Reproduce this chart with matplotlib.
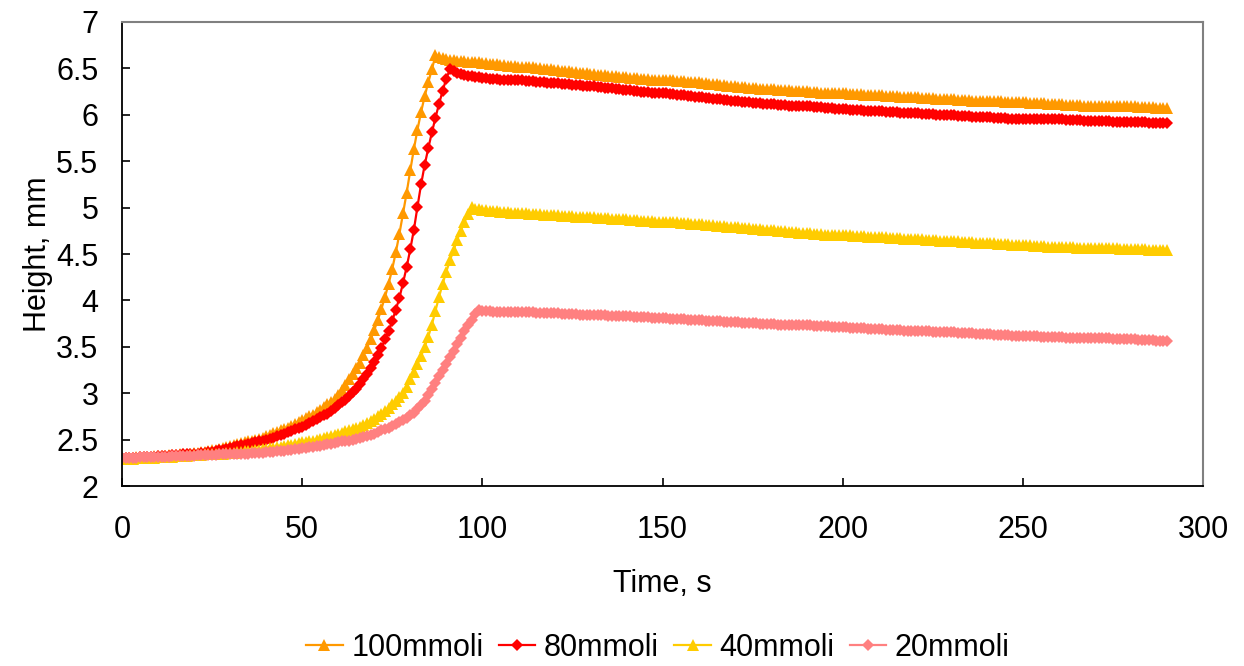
import matplotlib
matplotlib.use("Agg")
import matplotlib.pyplot as plt

plt.rcParams['font.family'] = ['Liberation Sans', 'DejaVu Sans']

time_s = list(range(0, 291))

labels = ["100mmoli", "80mmoli", "40mmoli", "20mmoli"]

h_100 = [
    2.30,2.30,2.30,2.30,2.31,2.31,2.31,2.31,2.31,2.32,
    2.32,2.32,2.32,2.33,2.33,2.33,2.34,2.34,2.35,2.35,
    2.36,2.36,2.37,2.37,2.38,2.39,2.39,2.40,2.41,2.42,
    2.43,2.44,2.45,2.46,2.47,2.48,2.49,2.50,2.51,2.52,
    2.54,2.55,2.57,2.58,2.60,2.61,2.63,2.65,2.67,2.69,
    2.71,2.73,2.75,2.77,2.80,2.82,2.85,2.88,2.91,2.94,
    2.98,3.03,3.09,3.15,3.21,3.27,3.33,3.41,3.49,3.58,
    3.68,3.79,3.91,4.04,4.18,4.34,4.52,4.72,4.94,5.16,
    5.40,5.63,5.84,6.03,6.20,6.35,6.49,6.64,6.62,6.61,
    6.60,6.59,6.59,6.58,6.58,6.58,6.57,6.57,6.57,6.57,
    6.56,6.56,6.55,6.55,6.55,6.54,6.54,6.53,6.53,6.53,
    6.52,6.52,6.51,6.51,6.51,6.50,6.50,6.49,6.49,6.49,
    6.48,6.48,6.47,6.47,6.47,6.46,6.46,6.45,6.45,6.45,
    6.44,6.44,6.43,6.43,6.43,6.42,6.42,6.42,6.41,6.41,
    6.41,6.40,6.40,6.40,6.39,6.39,6.39,6.38,6.38,6.38,
    6.38,6.37,6.37,6.37,6.36,6.36,6.36,6.35,6.35,6.35,
    6.35,6.34,6.34,6.33,6.33,6.33,6.32,6.32,6.31,6.31,
    6.31,6.30,6.30,6.30,6.29,6.29,6.29,6.28,6.28,6.28,
    6.28,6.28,6.27,6.27,6.27,6.27,6.26,6.26,6.26,6.26,
    6.26,6.25,6.25,6.25,6.24,6.24,6.24,6.23,6.23,6.23,
    6.23,6.23,6.22,6.22,6.22,6.22,6.21,6.21,6.21,6.21,
    6.21,6.21,6.20,6.20,6.20,6.20,6.19,6.19,6.19,6.19,
    6.19,6.19,6.18,6.18,6.18,6.18,6.17,6.17,6.17,6.17,
    6.17,6.17,6.16,6.16,6.16,6.16,6.15,6.15,6.15,6.15,
    6.15,6.15,6.15,6.15,6.15,6.14,6.14,6.14,6.14,6.14,
    6.14,6.14,6.13,6.13,6.13,6.13,6.13,6.12,6.12,6.12,
    6.12,6.12,6.11,6.11,6.11,6.11,6.11,6.10,6.10,6.10,
    6.10,6.10,6.10,6.10,6.10,6.09,6.09,6.09,6.09,6.09,
    6.09,6.09,6.08,6.08,6.08,6.08,6.08,6.07,6.07,6.07,
    6.07,
]

h_80 = [
    2.30,2.30,2.30,2.30,2.30,2.31,2.31,2.31,2.31,2.31,
    2.32,2.32,2.32,2.32,2.33,2.33,2.33,2.34,2.34,2.34,
    2.35,2.35,2.36,2.36,2.37,2.37,2.38,2.39,2.39,2.40,
    2.41,2.42,2.43,2.44,2.44,2.45,2.46,2.47,2.48,2.49,
    2.50,2.51,2.52,2.54,2.55,2.56,2.58,2.59,2.61,2.62,
    2.64,2.66,2.68,2.70,2.72,2.74,2.76,2.78,2.81,2.84,
    2.87,2.90,2.93,2.97,3.01,3.05,3.10,3.15,3.21,3.27,
    3.34,3.41,3.49,3.58,3.67,3.78,3.90,4.03,4.19,4.36,
    4.55,4.76,5.01,5.25,5.46,5.64,5.81,5.97,6.12,6.26,
    6.39,6.49,6.47,6.45,6.44,6.43,6.42,6.42,6.41,6.41,
    6.40,6.40,6.39,6.39,6.39,6.38,6.38,6.38,6.37,6.37,
    6.37,6.37,6.36,6.36,6.36,6.35,6.35,6.35,6.34,6.34,
    6.34,6.34,6.33,6.33,6.33,6.32,6.32,6.32,6.31,6.31,
    6.31,6.31,6.30,6.30,6.29,6.29,6.29,6.28,6.28,6.27,
    6.27,6.27,6.26,6.26,6.25,6.25,6.25,6.24,6.24,6.23,
    6.23,6.23,6.22,6.22,6.21,6.21,6.21,6.20,6.20,6.19,
    6.19,6.19,6.18,6.18,6.17,6.17,6.17,6.16,6.16,6.15,
    6.15,6.15,6.14,6.14,6.14,6.13,6.13,6.13,6.12,6.12,
    6.12,6.12,6.11,6.11,6.11,6.10,6.10,6.10,6.09,6.09,
    6.09,6.09,6.08,6.08,6.08,6.07,6.07,6.07,6.06,6.06,
    6.06,6.06,6.05,6.05,6.05,6.05,6.04,6.04,6.04,6.04,
    6.04,6.04,6.03,6.03,6.03,6.03,6.02,6.02,6.02,6.02,
    6.02,6.02,6.01,6.01,6.01,6.01,6.00,6.00,6.00,6.00,
    6.00,6.00,5.99,5.99,5.99,5.99,5.98,5.98,5.98,5.98,
    5.98,5.98,5.97,5.97,5.97,5.97,5.96,5.96,5.96,5.96,
    5.96,5.96,5.96,5.96,5.96,5.95,5.95,5.95,5.95,5.95,
    5.95,5.95,5.94,5.94,5.94,5.94,5.94,5.93,5.93,5.93,
    5.93,5.93,5.93,5.93,5.93,5.92,5.92,5.92,5.92,5.92,
    5.92,5.92,5.92,5.92,5.92,5.91,5.91,5.91,5.91,5.91,
    5.91,
]

h_40 = [
    2.29,2.29,2.29,2.29,2.30,2.30,2.30,2.30,2.30,2.30,
    2.31,2.31,2.31,2.31,2.31,2.32,2.32,2.32,2.32,2.33,
    2.33,2.33,2.33,2.34,2.34,2.34,2.35,2.35,2.35,2.36,
    2.36,2.36,2.37,2.37,2.38,2.38,2.38,2.39,2.39,2.40,
    2.40,2.41,2.41,2.42,2.42,2.43,2.44,2.44,2.45,2.46,
    2.47,2.47,2.48,2.49,2.50,2.51,2.52,2.53,2.54,2.55,
    2.56,2.57,2.59,2.60,2.61,2.63,2.64,2.66,2.68,2.70,
    2.72,2.75,2.78,2.81,2.84,2.88,2.92,2.96,3.00,3.07,
    3.15,3.23,3.31,3.40,3.50,3.61,3.74,3.89,4.04,4.18,
    4.31,4.43,4.54,4.65,4.75,4.84,4.93,5.01,4.99,4.98,
    4.97,4.97,4.96,4.96,4.96,4.95,4.95,4.95,4.94,4.94,
    4.94,4.94,4.94,4.93,4.93,4.93,4.93,4.92,4.92,4.92,
    4.92,4.92,4.91,4.91,4.91,4.91,4.90,4.90,4.90,4.90,
    4.90,4.90,4.89,4.89,4.89,4.89,4.88,4.88,4.88,4.88,
    4.88,4.87,4.87,4.87,4.86,4.86,4.86,4.86,4.85,4.85,
    4.85,4.85,4.84,4.84,4.84,4.83,4.83,4.83,4.82,4.82,
    4.82,4.82,4.81,4.81,4.81,4.80,4.80,4.80,4.79,4.79,
    4.79,4.79,4.78,4.78,4.78,4.77,4.77,4.77,4.76,4.76,
    4.76,4.76,4.75,4.75,4.75,4.74,4.74,4.74,4.73,4.73,
    4.73,4.73,4.72,4.72,4.72,4.71,4.71,4.71,4.70,4.70,
    4.70,4.70,4.70,4.69,4.69,4.69,4.69,4.68,4.68,4.68,
    4.68,4.68,4.68,4.67,4.67,4.67,4.67,4.66,4.66,4.66,
    4.66,4.66,4.66,4.65,4.65,4.65,4.65,4.64,4.64,4.64,
    4.64,4.64,4.64,4.63,4.63,4.63,4.63,4.62,4.62,4.62,
    4.62,4.62,4.62,4.61,4.61,4.61,4.61,4.60,4.60,4.60,
    4.60,4.60,4.60,4.59,4.59,4.59,4.59,4.58,4.58,4.58,
    4.58,4.58,4.58,4.58,4.58,4.57,4.57,4.57,4.57,4.57,
    4.57,4.57,4.56,4.56,4.56,4.56,4.56,4.55,4.55,4.55,
    4.55,4.55,4.55,4.55,4.55,4.54,4.54,4.54,4.54,4.54,
    4.54,
]

h_20 = [
    2.30,2.30,2.30,2.30,2.30,2.31,2.31,2.31,2.31,2.31,
    2.31,2.31,2.31,2.31,2.32,2.32,2.32,2.32,2.32,2.32,
    2.32,2.33,2.33,2.33,2.33,2.33,2.33,2.34,2.34,2.34,
    2.34,2.34,2.35,2.35,2.35,2.35,2.36,2.36,2.36,2.36,
    2.37,2.37,2.37,2.38,2.38,2.38,2.39,2.39,2.40,2.40,
    2.41,2.41,2.42,2.42,2.43,2.43,2.44,2.45,2.45,2.46,
    2.47,2.48,2.48,2.49,2.50,2.51,2.52,2.53,2.54,2.55,
    2.56,2.58,2.60,2.61,2.63,2.65,2.67,2.69,2.71,2.73,
    2.76,2.79,2.83,2.87,2.92,2.98,3.04,3.11,3.18,3.25,
    3.32,3.39,3.46,3.53,3.60,3.67,3.73,3.79,3.85,3.90,
    3.89,3.89,3.89,3.88,3.88,3.88,3.88,3.88,3.87,3.87,
    3.87,3.87,3.87,3.87,3.87,3.86,3.86,3.86,3.86,3.86,
    3.86,3.86,3.85,3.85,3.85,3.85,3.85,3.84,3.84,3.84,
    3.84,3.84,3.84,3.84,3.84,3.83,3.83,3.83,3.83,3.83,
    3.83,3.83,3.82,3.82,3.82,3.82,3.82,3.81,3.81,3.81,
    3.81,3.81,3.80,3.80,3.80,3.80,3.80,3.79,3.79,3.79,
    3.79,3.79,3.78,3.78,3.78,3.78,3.78,3.77,3.77,3.77,
    3.77,3.77,3.76,3.76,3.76,3.76,3.76,3.75,3.75,3.75,
    3.75,3.75,3.74,3.74,3.74,3.74,3.74,3.73,3.73,3.73,
    3.73,3.73,3.72,3.72,3.72,3.72,3.72,3.71,3.71,3.71,
    3.71,3.71,3.70,3.70,3.70,3.70,3.70,3.69,3.69,3.69,
    3.69,3.69,3.68,3.68,3.68,3.68,3.68,3.67,3.67,3.67,
    3.67,3.67,3.67,3.67,3.67,3.66,3.66,3.66,3.66,3.66,
    3.66,3.66,3.65,3.65,3.65,3.65,3.65,3.64,3.64,3.64,
    3.64,3.64,3.63,3.63,3.63,3.63,3.63,3.62,3.62,3.62,
    3.62,3.62,3.62,3.62,3.62,3.61,3.61,3.61,3.61,3.61,
    3.61,3.61,3.60,3.60,3.60,3.60,3.60,3.59,3.59,3.59,
    3.59,3.59,3.59,3.59,3.59,3.58,3.58,3.58,3.58,3.58,
    3.58,3.58,3.57,3.57,3.57,3.57,3.57,3.56,3.56,3.56,
    3.56,
]

series = [h_100, h_80, h_40, h_20]
colors = ["#FF9900", "#FF0000", "#FFCC00", "#FF8080"]
markers = ["^", "D", "^", "D"]
msizes = [8.5, 5.8, 8.5, 5.8]

fig = plt.figure(figsize=(12.44, 6.66), dpi=100)
ax = fig.add_axes([122/1244, 1 - 486/666, (1203-122)/1244, (486-22)/666])

for vals, lab, c, m, ms in zip(series, labels, colors, markers, msizes):
    ax.plot(time_s[:len(vals)], vals, color=c, marker=m, markersize=ms,
            markeredgewidth=0, linewidth=1.6, label=lab)

ax.set_xlim(0, 300)
ax.set_ylim(2, 7)
ax.set_xticks([0, 50, 100, 150, 200, 250, 300])
ax.set_yticks([2, 2.5, 3, 3.5, 4, 4.5, 5, 5.5, 6, 6.5, 7])
ax.set_yticklabels(["2", "2.5", "3", "3.5", "4", "4.5", "5", "5.5", "6", "6.5", "7"])
ax.tick_params(axis='both', direction='in', length=6, width=1.2, labelsize=22, colors='black')
ax.tick_params(axis='x', pad=21)
ax.tick_params(axis='y', pad=17)

for s in ['left', 'bottom']:
    ax.spines[s].set_color('black')
    ax.spines[s].set_linewidth(1.3)
for s in ['top', 'right']:
    ax.spines[s].set_color('#808080')
    ax.spines[s].set_linewidth(1.5)

ax.set_xlabel("Time, s", fontsize=22, labelpad=17)
ax.set_ylabel("Height, mm", fontsize=22, labelpad=2)

leg = fig.legend(loc='center', bbox_to_anchor=(658/1244, 1 - 648/666), ncol=4,
                 frameon=False, fontsize=22, handlelength=1.2, handletextpad=0.28,
                 columnspacing=0.5, borderaxespad=0)

fig.savefig("out.png", dpi=100)
